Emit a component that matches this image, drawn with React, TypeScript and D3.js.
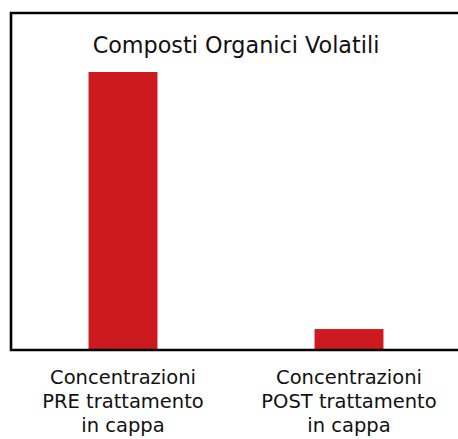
import { useEffect, useRef } from 'react'
import * as d3 from 'd3'

// Data (relative values, no axis in the original)
const categories = ['PRE', 'POST']
const values = [100, 7.2]
const labelLines = [
  ['Concentrazioni', 'PRE trattamento', 'in cappa'],
  ['Concentrazioni', 'POST trattamento', 'in cappa'],
]
const title = 'Composti Organici Volatili'

const width = 458
const height = 439
const barColor = '#cd1a1f'
const font = '"DejaVu Sans", "Noto Sans", sans-serif'

export default function App() {
  const svgRef = useRef<SVGSVGElement>(null)

  useEffect(() => {
    if (!svgRef.current) return
    const svg = d3.select(svgRef.current)
    svg.selectAll('*').remove()

    const baseline = 349
    const frameTop = 13
    const frameLeft = 11

    const x = d3.scaleBand()
      .domain(categories)
      .range([10, 462])
      .paddingInner(0.695)
      .paddingOuter(0.3475)

    const y = d3.scaleLinear()
      .domain([0, 100])
      .range([baseline, 72])

    // bars
    svg.selectAll('.bar')
      .data(categories)
      .join('rect')
      .attr('class', 'bar')
      .attr('x', d => x(d) || 0)
      .attr('width', x.bandwidth())
      .attr('y', (d, i) => y(values[i]))
      .attr('height', (d, i) => baseline - y(values[i]))
      .attr('fill', barColor)

    // frame: top, left, bottom (no right side)
    svg.append('path')
      .attr('d', `M${width},${frameTop} H${frameLeft} V${baseline + 1} H${width}`)
      .attr('fill', 'none')
      .attr('stroke', '#000')
      .attr('stroke-width', 2.6)

    // title
    svg.append('text')
      .attr('x', 236)
      .attr('y', 53)
      .attr('text-anchor', 'middle')
      .attr('font-family', font)
      .attr('font-size', 22.3)
      .attr('fill', '#111')
      .text(title)

    // category labels
    categories.forEach((c, i) => {
      const cx = (x(c) || 0) + x.bandwidth() / 2
      const t = svg.append('text')
        .attr('text-anchor', 'middle')
        .attr('font-family', font)
        .attr('font-size', 19.5)
        .attr('fill', '#111')
      labelLines[i].forEach((line, j) => {
        t.append('tspan')
          .attr('x', cx)
          .attr('y', 384 + j * 24)
          .text(line)
      })
    })
  }, [])

  return (
    <svg
      ref={svgRef}
      width={width}
      height={height}
      style={{ position: 'absolute', left: 0, top: 0, background: '#fff' }}
    />
  )
}
